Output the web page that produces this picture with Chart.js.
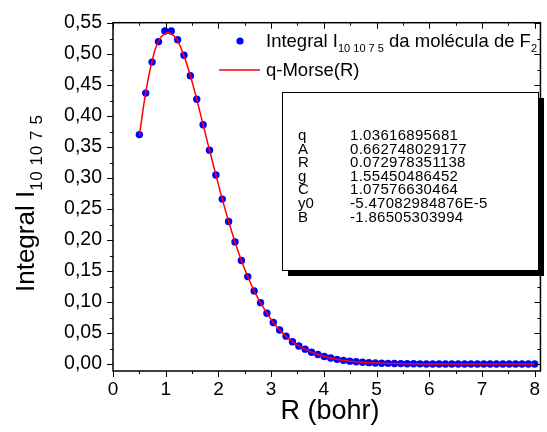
<!DOCTYPE html>
<html>
<head>
<meta charset="utf-8">
<script src="https://cdn.jsdelivr.net/npm/chart.js@4"></script>
<style>
  body { margin: 0; background: #fff; }
  #wrap { width: 547px; height: 432px; }
</style>
</head>
<body>
<div id="wrap"><canvas id="intChart" width="547" height="432"></canvas></div>
<script>
// R values (bohr)
const rValues = [0.500, 0.621, 0.742, 0.863, 0.984, 1.105, 1.226, 1.347, 1.468, 1.589,
  1.710, 1.831, 1.952, 2.073, 2.194, 2.315, 2.436, 2.557, 2.678, 2.799,
  2.920, 3.041, 3.162, 3.283, 3.404, 3.525, 3.646, 3.767, 3.888, 4.009,
  4.130, 4.251, 4.372, 4.493, 4.614, 4.735, 4.856, 4.977, 5.098, 5.219,
  5.340, 5.461, 5.582, 5.703, 5.824, 5.945, 6.066, 6.187, 6.308, 6.429,
  6.550, 6.671, 6.792, 6.913, 7.034, 7.155, 7.276, 7.397, 7.518, 7.639,
  7.760, 7.881, 8.000];

// integral I(10 10 7 5), F2 molecule
const integralValues = [0.370, 0.437, 0.487, 0.520, 0.537, 0.537, 0.523, 0.498, 0.465, 0.427,
  0.386, 0.345, 0.305, 0.266, 0.230, 0.197, 0.167, 0.141, 0.118, 0.099,
  0.082, 0.067, 0.055, 0.045, 0.036, 0.029, 0.024, 0.019, 0.0155, 0.0123,
  0.0097, 0.0076, 0.0060, 0.0047, 0.0037, 0.0029, 0.0023, 0.0018, 0.0014, 0.0011,
  0.0009, 0.0007, 0.0005, 0.0004, 0.0003, 0.0002, 0.0002, 0.0001, 0.0001, 0.0001,
  0.0001, 0, 0, 0, 0, 0, 0, 0, 0, 0,
  0, 0, 0];

// q-Morse fit curve, read at the same R
const fitValues = [0.368, 0.438, 0.489, 0.521, 0.533, 0.533, 0.521, 0.497, 0.465, 0.427,
  0.386, 0.345, 0.305, 0.266, 0.230, 0.197, 0.167, 0.141, 0.118, 0.099,
  0.082, 0.067, 0.055, 0.045, 0.036, 0.029, 0.024, 0.019, 0.0155, 0.0123,
  0.0097, 0.0076, 0.0060, 0.0047, 0.0037, 0.0029, 0.0023, 0.0018, 0.0014, 0.0011,
  0.0009, 0.0007, 0.0005, 0.0004, 0.0003, 0.0002, 0.0002, 0.0001, 0.0001, 0.0001,
  0.0001, 0, 0, 0, 0, 0, 0, 0, 0, 0,
  0, 0, 0];

const xTicks = [0, 1, 2, 3, 4, 5, 6, 7, 8];
const yTicks = [0, 0.05, 0.10, 0.15, 0.20, 0.25, 0.30, 0.35, 0.40, 0.45, 0.50, 0.55];

const paramNames = ['q', 'A', 'R', 'g', 'C', 'y0', 'B'];
const paramValues = ['1.03616895681', '0.662748029177', '0.072978351138', '1.55450486452',
  '1.07576630464', '-5.47082984876E-5', '-1.86505303994'];

const FONT = '"Liberation Sans", Arial, sans-serif';

function pts(xs, ys) {
  return xs.map((x, i) => ({ x: x, y: ys[i] }));
}

// draws text with subscript pieces: parts = [[text, isSub], ...]
function drawRich(ctx, parts, x, y, size, subSize, subDrop, subSpacing) {
  let cx = x;
  parts.forEach(p => {
    ctx.font = (p[1] ? subSize : size) + 'px ' + FONT;
    ctx.letterSpacing = p[1] ? (subSpacing || '0px') : '0px';
    ctx.fillText(p[0], cx, p[1] ? y + subDrop : y);
    cx += ctx.measureText(p[0]).width;
  });
  ctx.letterSpacing = '0px';
}

const decorPlugin = {
  id: 'decor',
  afterDatasetsDraw(chart) {
    const ctx = chart.ctx;
    const a = chart.chartArea;
    const xs = chart.scales.x, ys = chart.scales.y;
    ctx.save();
    ctx.strokeStyle = '#000';
    ctx.fillStyle = '#000';
    ctx.lineWidth = 1;

    // ticks, major and minor, outward on left/bottom, inward on top/right
    for (let i = 0; i <= 22; i++) {
      const py = Math.round(ys.getPixelForValue(i * 0.025)) + 0.5;
      const len = i % 2 === 0 ? 6 : 3;
      ctx.beginPath();
      ctx.moveTo(a.left - len, py); ctx.lineTo(a.left, py);
      ctx.moveTo(a.right, py); ctx.lineTo(a.right - len, py);
      ctx.stroke();
    }
    for (let i = 0; i <= 16; i++) {
      const px = Math.round(xs.getPixelForValue(i * 0.5)) + 0.5;
      const len = i % 2 === 0 ? 6 : 3;
      ctx.beginPath();
      ctx.moveTo(px, a.bottom); ctx.lineTo(px, a.bottom + len);
      ctx.moveTo(px, a.top); ctx.lineTo(px, a.top + len);
      ctx.stroke();
    }

    // frame
    ctx.lineWidth = 1.5;
    ctx.strokeRect(a.left, a.top, a.right - a.left, a.bottom - a.top);

    // legend
    ctx.textBaseline = 'alphabetic';
    ctx.fillStyle = '#0000ff';
    ctx.beginPath();
    ctx.arc(240, 41, 3.6, 0, Math.PI * 2);
    ctx.fill();
    ctx.fillStyle = '#000';
    drawRich(ctx, [['Integral I', false], ['10 10 7 5', true], [' da molécula de F', false], ['2', true]],
      266, 47, 18.5, 11, 5);
    ctx.strokeStyle = '#ff0000';
    ctx.lineWidth = 1.5;
    ctx.beginPath();
    ctx.moveTo(219, 70); ctx.lineTo(260, 70);
    ctx.stroke();
    ctx.font = '18.5px ' + FONT;
    ctx.fillText('q-Morse(R)', 266, 76);

    // parameter box with shadow
    ctx.fillStyle = '#000';
    ctx.fillRect(288, 98, 256, 178);
    ctx.fillStyle = '#fff';
    ctx.fillRect(282, 92, 256, 178);
    ctx.strokeStyle = '#000';
    ctx.lineWidth = 1;
    ctx.strokeRect(282.5, 92.5, 256, 178);
    ctx.fillStyle = '#000';
    ctx.font = '15px ' + FONT;
    paramNames.forEach((n, i) => {
      const by = 140 + i * 13.6;
      ctx.letterSpacing = '0px';
      ctx.fillText(n, 298, by);
      ctx.letterSpacing = '0.3px';
      ctx.fillText(paramValues[i], 350, by);
    });
    ctx.letterSpacing = '0px';

    // axis titles
    ctx.font = '27px ' + FONT;
    ctx.textAlign = 'center';
    ctx.fillText('R (bohr)', 330, 419);
    ctx.textAlign = 'left';
    ctx.translate(34, 292);
    ctx.rotate(-Math.PI / 2);
    drawRich(ctx, [['Integral I', false], ['10 10 7 5', true]], 0, 0, 26, 17, 8, '0.6px');
    ctx.restore();
  }
};

new Chart(document.getElementById('intChart').getContext('2d'), {
  type: 'scatter',
  data: {
    datasets: [
      {
        label: 'q-Morse(R)',
        data: pts(rValues, fitValues),
        showLine: true,
        borderColor: '#ff0000',
        borderWidth: 1.5,
        pointRadius: 0,
        tension: 0.4,
        order: 0
      },
      {
        label: 'Integral I da molécula de F2',
        data: pts(rValues, integralValues),
        backgroundColor: '#0000ff',
        borderWidth: 0,
        pointRadius: 3.7,
        order: 1
      }
    ]
  },
  options: {
    responsive: false,
    animation: false,
    layout: { padding: { top: 21, right: 1, left: 0, bottom: 0 } },
    plugins: {
      legend: { display: false },
      tooltip: { enabled: false }
    },
    scales: {
      x: {
        type: 'linear',
        min: 0,
        max: 8.11,
        afterBuildTicks: s => { s.ticks = xTicks.map(v => ({ value: v })); },
        afterFit: s => { s.height = 61; },
        grid: { display: false, drawTicks: false },
        border: { display: false },
        ticks: { color: '#000', font: { family: FONT, size: 19 }, padding: 7, maxRotation: 0 }
      },
      y: {
        min: -0.0112,
        max: 0.5505,
        afterBuildTicks: s => { s.ticks = yTicks.map(v => ({ value: v })); },
        afterFit: s => { s.width = 113; },
        grid: { display: false, drawTicks: false },
        border: { display: false },
        ticks: {
          color: '#000',
          font: { family: FONT, size: 19.5 },
          padding: 11,
          callback: v => v.toFixed(2).replace('.', ',')
        }
      }
    }
  },
  plugins: [decorPlugin]
});
</script>
</body>
</html>
